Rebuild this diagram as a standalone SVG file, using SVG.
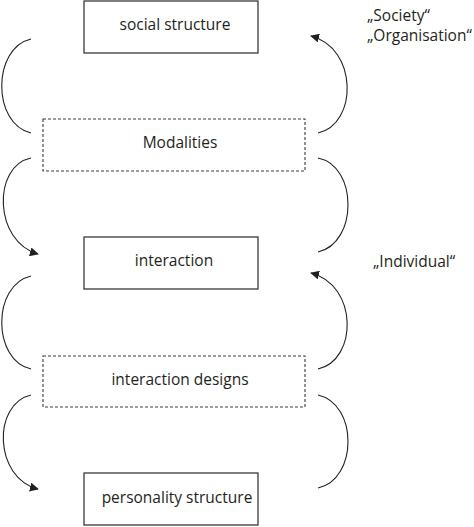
<svg xmlns="http://www.w3.org/2000/svg" width="474" height="527" viewBox="0 0 474 527">
<style>
.box{fill:#fff;stroke:#3a3a3a;stroke-width:1.3}
.dbox{fill:#fff;stroke:#3a3a3a;stroke-width:1.1;stroke-dasharray:3 2}
.lbl{font-family:"Open Sans","Noto Sans",sans-serif;font-size:15.5px;fill:#231f20;text-anchor:middle}
.side{font-family:"Open Sans","Noto Sans",sans-serif;font-size:15.5px;fill:#231f20}
.arc{fill:none;stroke:#231f20;stroke-width:1.1}
</style>
<defs>
<marker id="ah" viewBox="0 0 10 10" refX="9" refY="5" markerWidth="9" markerHeight="9" markerUnits="userSpaceOnUse" orient="auto">
<path d="M0,0 L10,5 L0,10 Z" fill="#231f20"/>
</marker>
</defs>
<rect width="474" height="527" fill="#fff"/>
<g id="connectors">
<path class="arc" d="M31,39 C-8,48 -8,124 31,133"/>
<path class="arc" d="M31,158 C-8,166 -6,242 38,254" marker-end="url(#ah)"/>
<path class="arc" d="M31,276 C-8,285 -8,360 31,369"/>
<path class="arc" d="M31,395 C-8,404 -6,478 38,489" marker-end="url(#ah)"/>
<path class="arc" d="M318,133 C358,124 358,48 311,36" marker-end="url(#ah)"/>
<path class="arc" d="M318,158 C358,166 358,243 318,252"/>
<path class="arc" d="M318,369 C358,360 358,285 311,273" marker-end="url(#ah)"/>
<path class="arc" d="M318,395 C358,404 358,479 318,488"/>
</g>
<g id="node-social-structure">
<rect class="box" x="84" y="1" width="174" height="52"/>
<text class="lbl" x="175" y="30">social structure</text>
</g>
<g id="node-modalities">
<rect class="dbox" x="43" y="119" width="262" height="52"/>
<text class="lbl" x="180" y="148">Modalities</text>
</g>
<g id="node-interaction">
<rect class="box" x="84" y="237" width="174" height="52"/>
<text class="lbl" x="174" y="266">interaction</text>
</g>
<g id="node-interaction-designs">
<rect class="dbox" x="43" y="356" width="262" height="51"/>
<text class="lbl" x="180" y="385">interaction designs</text>
</g>
<g id="node-personality-structure">
<rect class="box" x="84" y="473" width="174" height="52"/>
<text class="lbl" x="177" y="503">personality structure</text>
</g>
<g id="labels">
<text class="side" x="367" y="21">„Society“</text>
<text class="side" x="367" y="41">„Organisation“</text>
<text class="side" x="373" y="267">„Individual“</text>
</g>
</svg>
